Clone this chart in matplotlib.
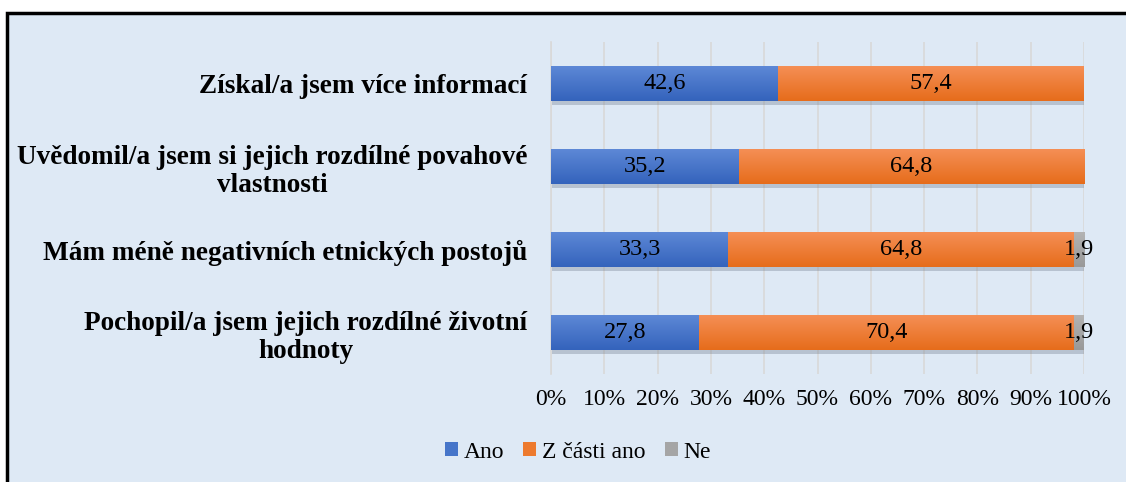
import numpy as np
import matplotlib.pyplot as plt
from matplotlib.patches import Rectangle
from matplotlib.colors import LinearSegmentedColormap
import matplotlib.patheffects as pe

categories = [
    'Získal/a jsem více informací',
    'Uvědomil/a jsem si jejich rozdílné povahové\nvlastnosti',
    'Mám méně negativních etnických postojů',
    'Pochopil/a jsem jejich rozdílné životní\nhodnoty',
]
ano = [42.6, 35.2, 33.3, 27.8]
z_casti = [57.4, 64.8, 64.8, 70.4]
ne = [0.0, 0.0, 1.9, 1.9]
series_names = ['Ano', 'Z části ano', 'Ne']
colors = ['#4675C9', '#ED7A2E', '#A5A5A5']
# top -> bottom shades for the gradient fill
shades = [('#5D88D6', '#3463BC'), ('#F58F55', '#E66C1B'), ('#B3B3B3', '#999999')]

plt.rcParams['font.family'] = ['Liberation Serif', 'DejaVu Serif']

fig = plt.figure(figsize=(11.26, 4.82), dpi=100)
bg = '#DEE9F5'
fig.patches.append(Rectangle((7 / 1126, -0.05), 1.1, 1 - 13 / 482 + 0.05,
                             transform=fig.transFigure, facecolor=bg,
                             edgecolor='black', linewidth=2.5, zorder=-10))

ax = fig.add_axes([551 / 1126, 1 - 374 / 482, 533 / 1126, 332 / 482])
ax.set_facecolor('none')

y = np.arange(len(categories))
left = np.zeros(len(categories))
shadow = [pe.SimplePatchShadow(offset=(1, -3), shadow_rgbFace='#6f7b8c', alpha=0.35), pe.Normal()]
grad = np.linspace(0, 1, 64).reshape(-1, 1)
for vals, name, c, sh in zip([ano, z_casti, ne], series_names, colors, shades):
    vals = np.array(vals)
    bars = ax.barh(y, vals, left=left, height=0.41, color=c, label=name, zorder=3)
    cmap = LinearSegmentedColormap.from_list(name, list(sh))
    for b in bars:
        b.set_path_effects(shadow)
        if b.get_width() > 0:
            x0, y0 = b.get_x(), b.get_y()
            im = ax.imshow(grad, cmap=cmap, aspect='auto', zorder=3.5,
                           extent=(x0, x0 + b.get_width(), y0 + b.get_height(), y0),
                           interpolation='bilinear')
    for yi, l, v in zip(y, left, vals):
        if v > 0:
            ax.text(l + v / 2, yi, '{:.1f}'.format(v).replace('.', ','),
                    ha='center', va='center', fontsize=17.5, zorder=5)
    left = left + vals

ax.set_xlim(0, 100)
ax.set_ylim(len(categories) - 0.5, -0.5)
ax.set_xticks(np.arange(0, 101, 10))
ax.set_xticklabels(['{}%'.format(t) for t in range(0, 101, 10)], fontsize=17)
ax.set_yticks(y)
ax.set_yticklabels(categories, fontsize=19.6, fontweight='bold', multialignment='center')
ax.tick_params(axis='both', length=0)
ax.tick_params(axis='y', pad=17)
ax.tick_params(axis='x', pad=11)
ax.grid(axis='x', color='#D9D9D9', linewidth=1.2, zorder=0)
for s in ['top', 'right', 'bottom']:
    ax.spines[s].set_visible(False)
ax.spines['left'].set_color('#D9D9D9')
ax.spines['left'].set_linewidth(1.2)

leg = ax.legend(loc='center', bbox_to_anchor=(578 / 1126, 1 - 452 / 482),
                bbox_transform=fig.transFigure, ncol=3, frameon=False,
                fontsize=17, handlelength=0.55, handleheight=0.55,
                handletextpad=0.25, columnspacing=0.8)
for h in leg.legend_handles:
    h.set_path_effects([])

fig.savefig('out.png', dpi=100, facecolor='white')
